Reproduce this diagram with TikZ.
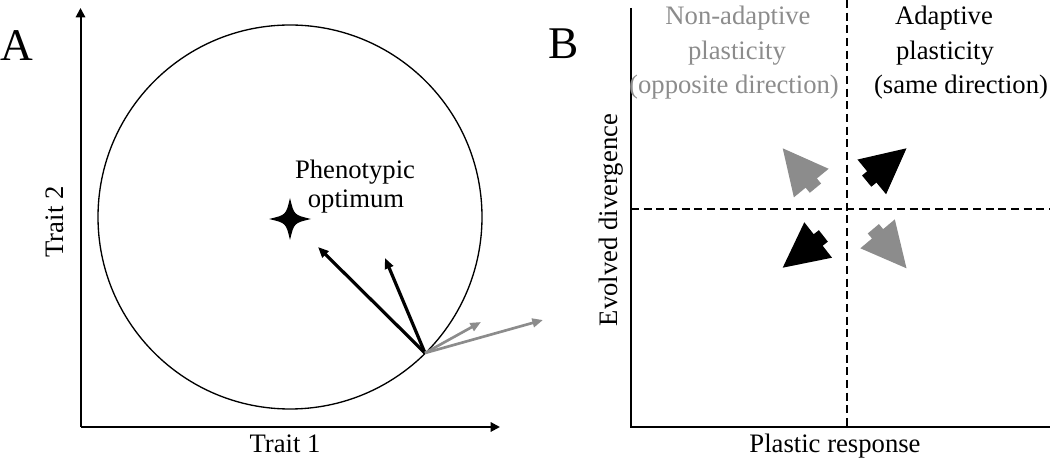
\documentclass[tikz,border=0pt]{standalone}
\usepackage{fontspec}
\setmainfont{Liberation Serif}
\usetikzlibrary{arrows.meta,calc}
\definecolor{midgray}{RGB}{140,140,140}
\tikzset{
  axis/.style={line width=1.5pt,-{Triangle[length=7pt,width=7pt]}},
  plainaxis/.style={line width=1.5pt},
  divider/.style={line width=1.7pt,dash pattern=on 6pt off 3.5pt},
  vec/.style={line width=2.4pt,-{Triangle[length=8pt,width=6.5pt]}},
  gvec/.style={line width=2pt,midgray,-{Triangle[length=8pt,width=6.5pt]}},
  lbl/.style={font=\fontsize{20}{22}\selectfont,align=center,inner sep=0pt},
  panel/.style={font=\fontsize{34}{40}\selectfont,inner sep=0pt},
  pics/fatarrow/.style={code={
    \fill[#1] (0,0) -- (-45,22.5) -- (-45,7.3) -- (-51.6,7.3)
      -- (-51.6,-7.3) -- (-45,-7.3) -- (-45,-22.5) -- cycle;}},
}

\begin{document}
\begin{tikzpicture}[x=0.75pt,y=-0.75pt]
  \useasboundingbox (0,0) rectangle (1050,459);

  % panel A
  \node[panel] (labA) at (16.5,45.5) {A};
  \coordinate (Aorig) at (80.5,427);
  \coordinate (Aytop) at (80.5,8);
  \coordinate (Axend) at (500,427);
  \draw[axis] (Aorig) -- (Aytop);
  \draw[axis] (Aorig) -- (Axend);
  \node[lbl,anchor=base] (trait1) at (285,453) {Trait 1};
  \node[lbl,rotate=90] (trait2) at (55,222) {Trait 2};

  \coordinate (ctr) at (290,217);
  \draw[line width=1pt] (ctr) circle[radius=192];
  \fill[shift={(290,219)}] (21,0) .. controls (4,4) .. (0,21)
    .. controls (-4,4) .. (-21,0) .. controls (-4,-4) .. (0,-21)
    .. controls (4,-4) .. cycle;
  \node[lbl,anchor=base] (pheno) at (355,179) {Phenotypic};
  \node[lbl,anchor=base] (optim) at (356,208) {optimum};

  \coordinate (base) at (425,353);
  \coordinate (v1) at (318,247);
  \coordinate (v2) at (385,258);
  \coordinate (g1) at (481,322);
  \coordinate (g2) at (543,320);
  \draw[vec]  (base) -- (v1);
  \draw[vec]  (base) -- (v2);
  \draw[gvec] (base) -- (g1);
  \draw[gvec] (base) -- (g2);

  % panel B
  \node[panel] (labB) at (564,43.5) {B};
  \coordinate (Borig) at (630.5,427);
  \coordinate (Bytop) at (630.5,8);
  \coordinate (Bxend) at (1050,427);
  \draw[plainaxis] (Bytop) -- (Borig) -- (Bxend);
  \coordinate (vtop) at (847,0);
  \coordinate (vbot) at (847,427);
  \coordinate (hleft) at (631,209);
  \coordinate (hright) at (1050,209);
  \draw[divider] (vtop) -- (vbot);
  \draw[divider] (hleft) -- (hright);
  \node[lbl,anchor=base] (plastic) at (835,453) {Plastic response};
  \node[lbl,rotate=90] (evolved) at (611,220) {Evolved divergence};

  \node[lbl,anchor=base,midgray] (nonad1) at (738,25) {Non-adaptive};
  \node[lbl,anchor=base,midgray] (nonad2) at (737,60) {plasticity};
  \node[lbl,anchor=base,midgray] (nonad3) at (734,94) {(opposite direction)};
  \node[lbl,anchor=base] (adapt1) at (944,25) {Adaptive};
  \node[lbl,anchor=base] (adapt2) at (945,60) {plasticity};
  \node[lbl,anchor=base] (adapt3) at (961,94) {(same direction)};

  \pic[rotate=129.4] at (782.7,148.3) {fatarrow=midgray};
  \pic[rotate=39.5]  at (906.5,148.3) {fatarrow=black};
  \pic[rotate=218]   at (782.7,267.7) {fatarrow=black};
  \pic[rotate=-50]   at (906.5,268.3) {fatarrow=midgray};
\end{tikzpicture}
\end{document}
